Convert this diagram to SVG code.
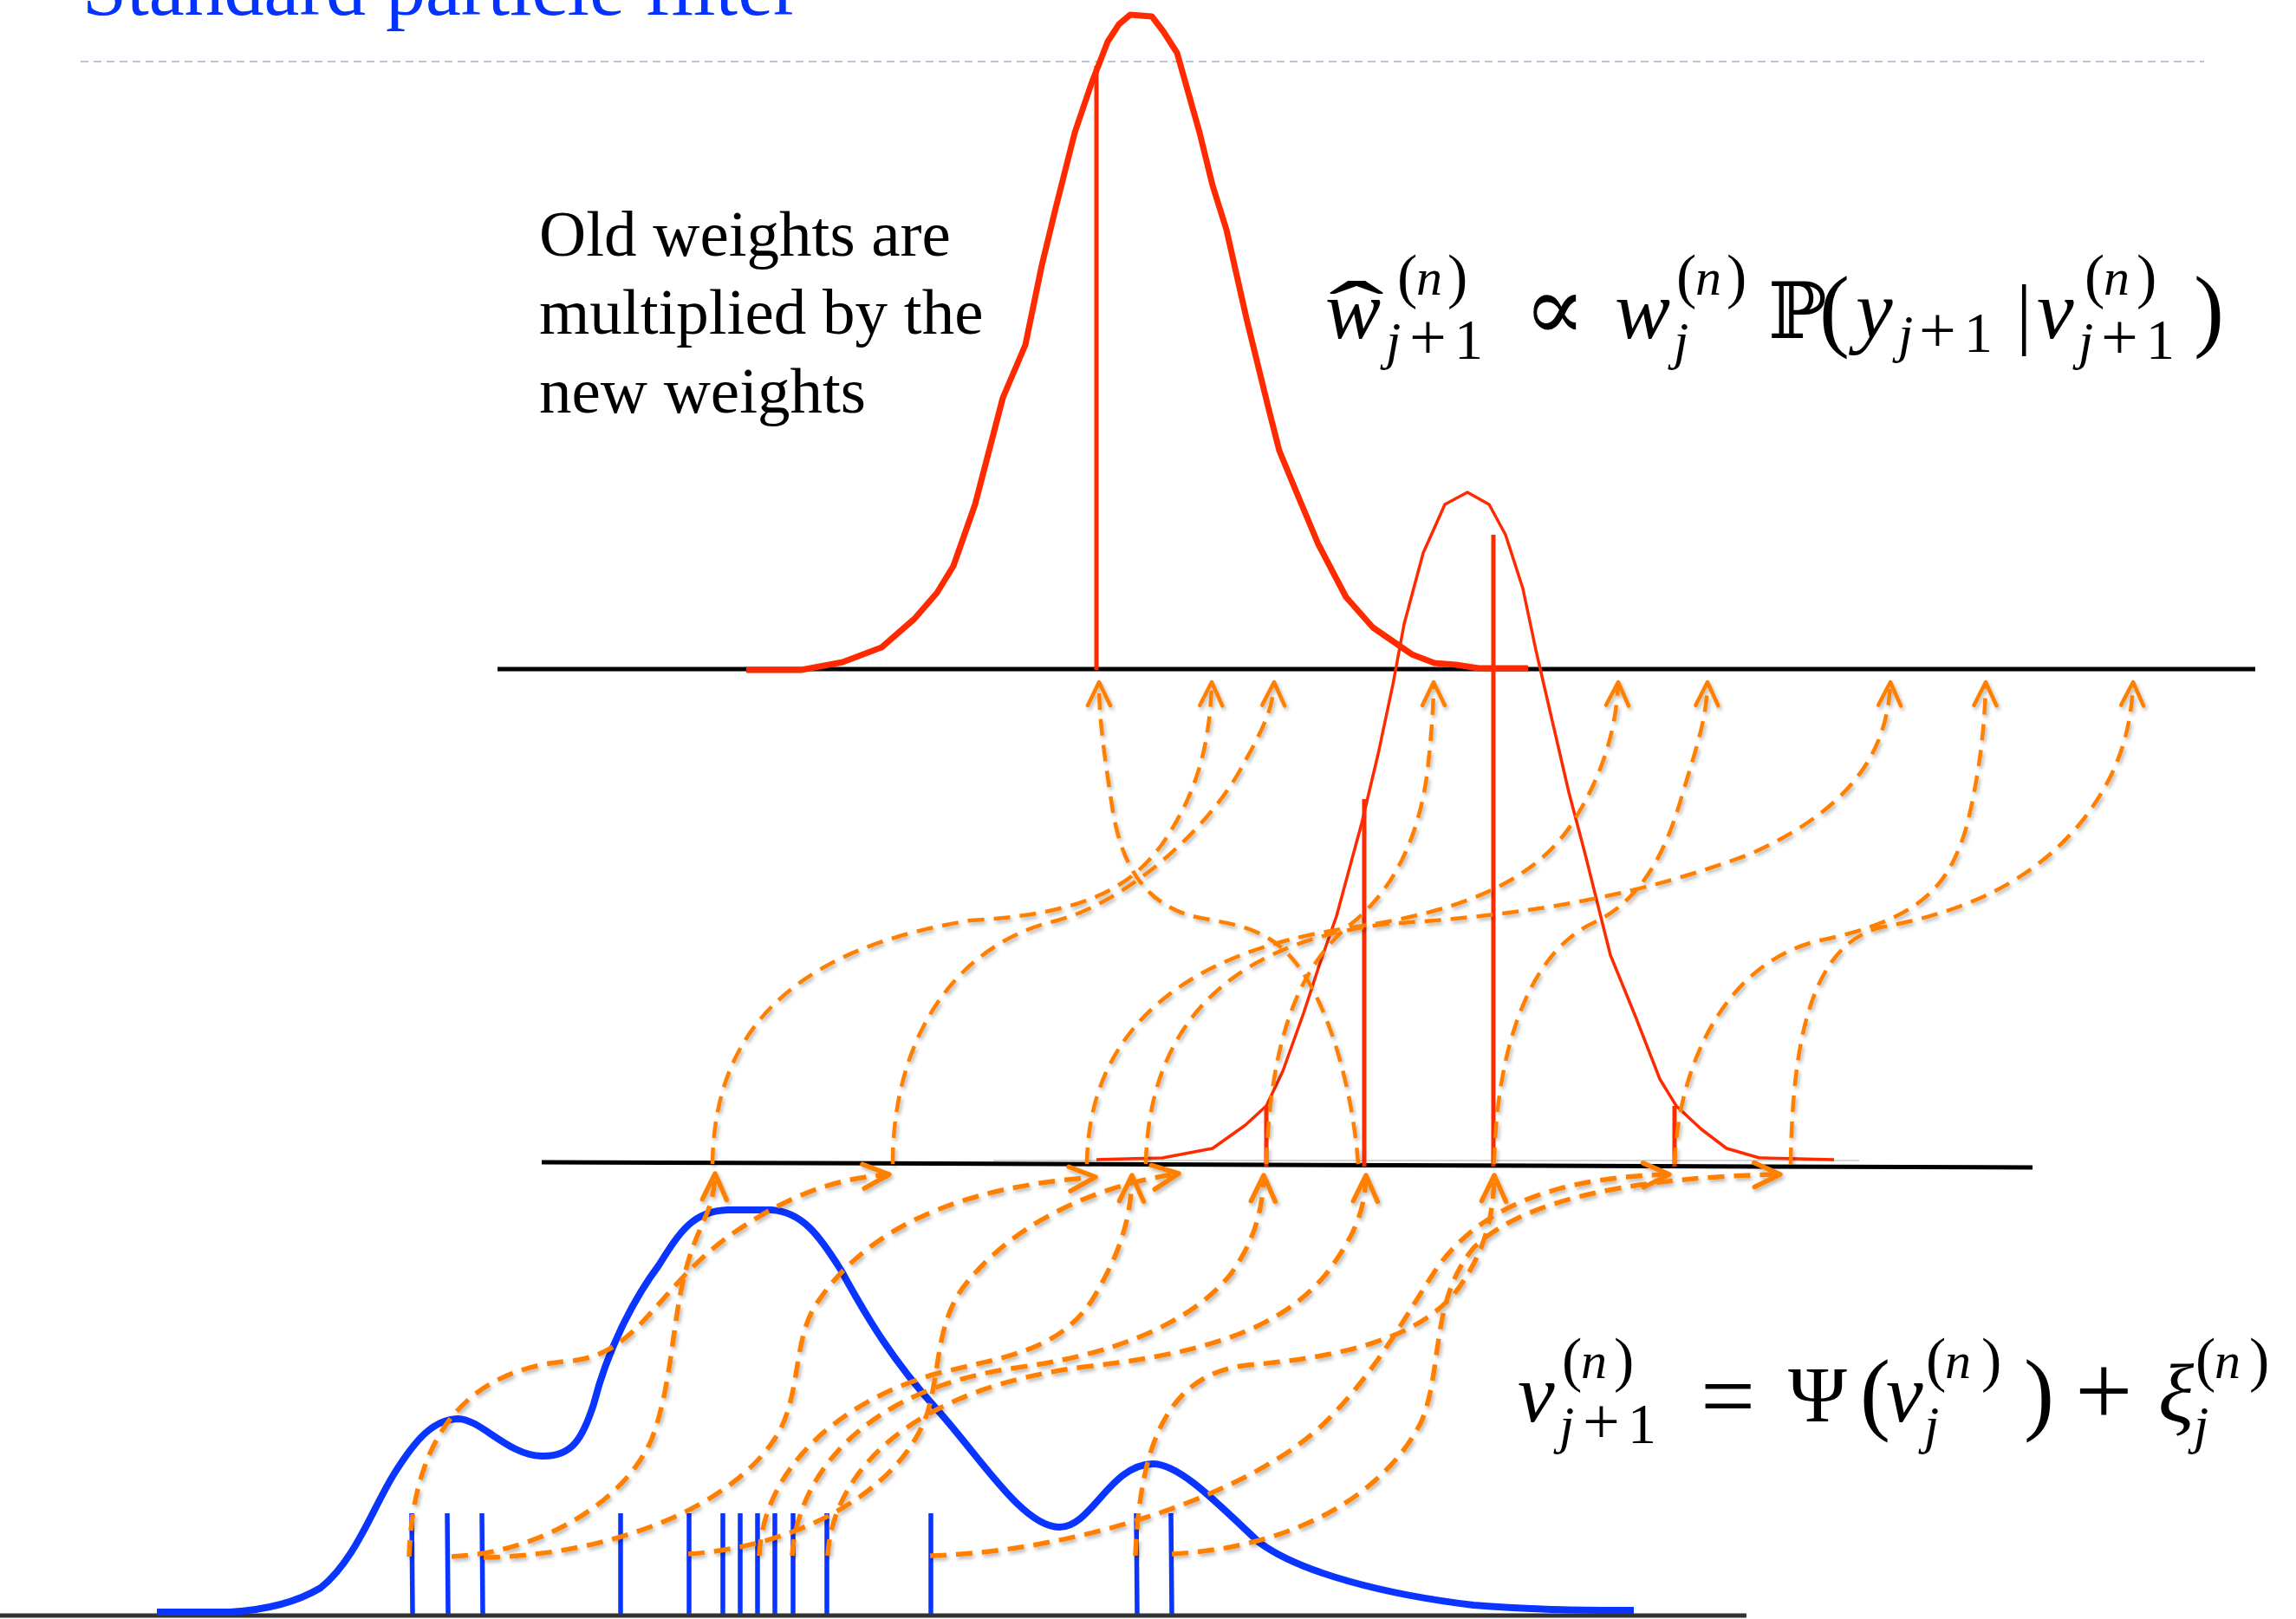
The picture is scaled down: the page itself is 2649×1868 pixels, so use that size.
<svg xmlns="http://www.w3.org/2000/svg" width="2649" height="1868" viewBox="0 0 2649 1868">
<style>
.axis{stroke:#000;stroke-width:5;fill:none}
.redc{fill:none;stroke:#ff2a00;stroke-linejoin:round;stroke-linecap:butt}
.stick{stroke:#ff2a00;stroke-width:5}
.tick{stroke:#0a34ff;stroke-width:5.5}
.con path{fill:none;stroke:#ff8000;stroke-dasharray:19 11}
.con .lo{stroke-width:5.5;marker-end:url(#ahLo)}
.con .up{stroke-width:4.5;marker-end:url(#ahUp)}
.math{font-family:'Liberation Serif','Times New Roman',serif;fill:#000}
.it{font-style:italic}
.sym{font-family:'DejaVu Serif','DejaVu Sans',serif;font-style:normal}
</style>
<defs>
<marker id="ahLo" markerUnits="userSpaceOnUse" viewBox="-36 -20 42 40" markerWidth="42" markerHeight="40" refX="0" refY="0" orient="auto">
<path d="M-30,-14 L0,0 L-30,14" fill="none" stroke="#ff8000" stroke-width="5.5" stroke-linecap="round" stroke-linejoin="round"/>
</marker>
<marker id="ahUp" markerUnits="userSpaceOnUse" viewBox="-32 -18 38 36" markerWidth="38" markerHeight="36" refX="0" refY="0" orient="auto">
<path d="M-27,-13 L0,0 L-27,13" fill="none" stroke="#ff8000" stroke-width="4.5" stroke-linecap="round" stroke-linejoin="round"/>
</marker>
<filter id="sh" x="-5%" y="-5%" width="110%" height="110%">
<feDropShadow dx="2" dy="3" stdDeviation="2" flood-color="#000" flood-opacity="0.28"/>
</filter>
</defs>
<rect width="2649" height="1868" fill="#fff"/>

<g id="title">
<text x="95" y="17" font-family="'Liberation Serif','Times New Roman',serif" font-size="92" fill="#0433ff">Standard particle filter</text>
<line x1="93" y1="71" x2="2543" y2="71" stroke="#b4c6da" stroke-width="2" stroke-dasharray="9 6"/>
</g>

<g id="label-old-weights" font-family="'Liberation Serif','Times New Roman',serif" font-size="75" fill="#000">
<text x="622" y="295">Old weights are</text>
<text x="622" y="385">multiplied by the</text>
<text x="622" y="476">new weights</text>
</g>

<g id="axes">
<line class="axis" x1="574" y1="772" x2="2602" y2="772"/>
<line x1="1146" y1="1339" x2="2145" y2="1339" stroke="#c8c8c8" stroke-width="1.5"/>
<line class="axis" x1="625" y1="1341" x2="2345" y2="1347"/>
<line x1="0" y1="1864" x2="2015" y2="1864" stroke="#333" stroke-width="5"/>
</g>

<g id="prior-density">
<path d="M181,1860 L265,1860 C300,1858 340,1850 370,1832 C410,1800 430,1740 455,1700 C480,1660 500,1638 528,1637 C555,1637 585,1679 625,1680 C660,1681 672,1660 685,1620 C700,1560 730,1500 760,1460 C785,1420 800,1397 840,1396 L890,1396 C925,1398 945,1425 970,1465 C1000,1520 1030,1570 1080,1625 C1130,1680 1180,1762 1222,1762 C1260,1762 1280,1690 1330,1689 C1360,1689 1400,1730 1452,1779 C1500,1815 1600,1840 1700,1852 C1780,1858 1830,1858 1885,1858" fill="none" stroke="#0a34ff" stroke-width="8" stroke-linejoin="round"/>
</g>

<g id="prior-particles">
<line class="tick" x1="475" y1="1746" x2="476" y2="1862"/>
<line class="tick" x1="516" y1="1746" x2="517" y2="1862"/>
<line class="tick" x1="556" y1="1746" x2="557" y2="1862"/>
<line class="tick" x1="716" y1="1746" x2="716" y2="1862"/>
<line class="tick" x1="795" y1="1746" x2="795" y2="1862"/>
<line class="tick" x1="834" y1="1746" x2="834" y2="1862"/>
<line class="tick" x1="854" y1="1746" x2="854" y2="1862"/>
<line class="tick" x1="874" y1="1746" x2="874" y2="1862"/>
<line class="tick" x1="894" y1="1746" x2="894" y2="1862"/>
<line class="tick" x1="915" y1="1746" x2="915" y2="1862"/>
<line class="tick" x1="954" y1="1746" x2="954" y2="1862"/>
<line class="tick" x1="1074" y1="1746" x2="1074" y2="1862"/>
<line class="tick" x1="1311" y1="1746" x2="1312" y2="1862"/>
<line class="tick" x1="1351" y1="1746" x2="1352" y2="1862"/>
</g>

<g id="likelihood">
<path class="redc" stroke-width="3.5" d="M1265,1338 L1341,1336 L1399,1325 L1437,1298 L1461,1276 L1480,1236 L1504,1169 L1523,1111 L1542,1057 L1571,950 L1590,870 L1607,790 L1620,720 L1642,638 L1667,582 L1693,568 L1718,582 L1737,617 L1757,679 L1772,750 L1781,789 L1810,914 L1829,986 L1858,1102 L1887,1173 L1915,1245 L1934,1276 L1963,1303 L1992,1325 L2030,1336 L2116,1338"/>
</g>

<g id="middle-weights">
<line class="stick" x1="1461" y1="1276" x2="1461" y2="1346"/>
<line class="stick" x1="1574" y1="922" x2="1574" y2="1346"/>
<line class="stick" x1="1723" y1="617" x2="1723" y2="1346"/>
<line class="stick" x1="1932" y1="1276" x2="1932" y2="1346"/>
</g>

<g id="posterior-density">
<path class="redc" stroke-width="7" d="M861,773 L924,773 L972,764 L1017,747 L1055,714 L1081,684 L1100,653 L1125,582 L1157,459 L1183,398 L1202,306 L1218,240 L1240,153 L1259,97 L1278,48 L1291,28 L1304,17 L1329,19 L1342,36 L1358,61 L1384,153 L1399,214 L1415,265 L1438,367 L1463,469 L1476,520 L1495,566 L1521,628 L1553,689 L1584,724 L1629,755 L1655,765 L1680,767 L1706,771 L1763,771"/>
<line class="stick" x1="1265" y1="76" x2="1265" y2="773"/>
</g>

<g id="connectors" class="con" filter="url(#sh)">
<path class="lo" d="M472,1796 C476,1680 520,1580 660,1570 C740,1562 760,1480 850,1420 C910,1380 960,1360 1026,1355"/>
<path class="lo" d="M521,1796 C620,1792 720,1735 752,1660 C775,1600 775,1530 790,1470 C805,1410 824,1400 825,1354"/>
<path class="lo" d="M558,1797 C700,1795 850,1740 900,1650 C925,1600 915,1540 945,1500 C1000,1420 1100,1370 1264,1358"/>
<path class="lo" d="M794,1793 C920,1785 1040,1720 1070,1630 C1085,1580 1080,1530 1110,1487 C1160,1420 1250,1370 1360,1354"/>
<path class="lo" d="M876,1795 C880,1700 960,1620 1080,1585 C1160,1565 1220,1560 1260,1500 C1290,1450 1305,1410 1306,1356"/>
<path class="lo" d="M914,1795 C920,1700 1000,1600 1180,1577 C1300,1560 1380,1520 1420,1470 C1445,1435 1457,1400 1458,1356"/>
<path class="lo" d="M955,1795 C960,1700 1050,1600 1260,1576 C1400,1560 1480,1530 1530,1470 C1560,1430 1575,1400 1576,1356"/>
<path class="lo" d="M1073,1795 C1250,1790 1450,1720 1530,1640 C1590,1580 1620,1520 1660,1460 C1720,1380 1820,1358 1926,1355"/>
<path class="lo" d="M1310,1795 C1315,1680 1340,1585 1440,1575 C1560,1565 1640,1540 1680,1490 C1710,1450 1723,1410 1724,1356"/>
<path class="lo" d="M1352,1793 C1500,1785 1600,1720 1640,1640 C1665,1580 1650,1500 1700,1440 C1760,1380 1900,1358 2054,1355"/>

<path class="up" d="M822,1343 C824,1220 880,1100 1120,1062 C1240,1055 1300,1030 1340,975 C1375,925 1396,870 1398,787"/>
<path class="up" d="M1030,1343 C1030,1200 1100,1090 1220,1062 C1300,1040 1390,960 1430,890 C1455,845 1469,820 1470,787"/>
<path class="up" d="M1567,1343 C1560,1250 1530,1150 1490,1105 C1460,1070 1420,1066 1390,1060 C1330,1050 1295,1010 1283,930 C1274,870 1268,830 1268,787"/>
<path class="up" d="M1461,1343 C1465,1220 1490,1120 1560,1065 C1610,1025 1640,960 1648,880 C1652,840 1654,815 1654,787"/>
<path class="up" d="M1254,1343 C1256,1200 1350,1100 1560,1070 C1700,1050 1780,1010 1820,940 C1850,890 1865,840 1867,787"/>
<path class="up" d="M1322,1343 C1325,1200 1400,1090 1600,1066 C1780,1055 1900,1030 2020,985 C2120,940 2178,880 2181,787"/>
<path class="up" d="M1724,1343 C1726,1220 1760,1100 1840,1064 C1890,1040 1920,990 1940,920 C1958,860 1969,830 1970,787"/>
<path class="up" d="M1932,1343 C1936,1230 1990,1110 2100,1085 C2220,1060 2250,1020 2270,950 C2284,890 2290,840 2291,787"/>
<path class="up" d="M2066,1343 C2068,1200 2090,1090 2170,1070 C2280,1050 2350,1010 2400,950 C2440,900 2459,850 2461,787"/>
</g>

<g id="formula-weight-update">
<text class="math" font-size="96"><tspan class="it" x="1529" y="390">w</tspan><tspan x="1533" y="394" font-size="100" textLength="64" lengthAdjust="spacingAndGlyphs">ˆ</tspan><tspan x="1612" y="342" font-size="70">(</tspan><tspan class="it" x="1634" y="340" font-size="60">n</tspan><tspan x="1670" y="342" font-size="70">)</tspan><tspan class="it" x="1599" y="414" font-size="62">j</tspan><tspan x="1626" y="414" font-size="76">+</tspan><tspan x="1678" y="414" font-size="66">1</tspan><tspan class="sym" x="1758" y="392" font-size="106">∝</tspan><tspan class="it" x="1863" y="390">w</tspan><tspan x="1934" y="342" font-size="70">(</tspan><tspan class="it" x="1956" y="340" font-size="60">n</tspan><tspan x="1992" y="342" font-size="70">)</tspan><tspan class="it" x="1931" y="414" font-size="62">j</tspan><tspan class="sym" x="2040" y="390" font-size="90">ℙ</tspan><tspan x="2099" y="392" font-size="105">(</tspan><tspan class="it" x="2141" y="390">y</tspan><tspan class="it" x="2190" y="406" font-size="62">j</tspan><tspan x="2214" y="406" font-size="76">+</tspan><tspan x="2266" y="406" font-size="66">1</tspan><tspan x="2326" y="392" font-size="92">|</tspan><tspan class="it" x="2350" y="390">v</tspan><tspan x="2405" y="342" font-size="70">(</tspan><tspan class="it" x="2427" y="340" font-size="60">n</tspan><tspan x="2465" y="342" font-size="70">)</tspan><tspan class="it" x="2398" y="414" font-size="62">j</tspan><tspan x="2424" y="414" font-size="76">+</tspan><tspan x="2476" y="414" font-size="66">1</tspan><tspan x="2531" y="392" font-size="105">)</tspan></text>
</g>

<g id="formula-propagation">
<text class="math" font-size="96"><tspan class="it" x="1751" y="1640">v</tspan><tspan x="1802" y="1592" font-size="70">(</tspan><tspan class="it" x="1824" y="1590" font-size="60">n</tspan><tspan x="1862" y="1592" font-size="70">)</tspan><tspan class="it" x="1799" y="1665" font-size="62">j</tspan><tspan x="1826" y="1665" font-size="76">+</tspan><tspan x="1878" y="1665" font-size="66">1</tspan><tspan x="1962" y="1648" font-size="112">=</tspan><tspan x="2063" y="1640" font-size="92">Ψ</tspan><tspan x="2146" y="1642" font-size="105">(</tspan><tspan class="it" x="2176" y="1640">v</tspan><tspan x="2222" y="1592" font-size="70">(</tspan><tspan class="it" x="2244" y="1590" font-size="60">n</tspan><tspan x="2286" y="1592" font-size="70">)</tspan><tspan class="it" x="2220" y="1665" font-size="62">j</tspan><tspan x="2335" y="1642" font-size="105">)</tspan><tspan x="2394" y="1645" font-size="118">+</tspan><tspan class="it" x="2490" y="1640">ξ</tspan><tspan x="2533" y="1592" font-size="70">(</tspan><tspan class="it" x="2555" y="1590" font-size="60">n</tspan><tspan x="2595" y="1592" font-size="70">)</tspan><tspan class="it" x="2531" y="1665" font-size="62">j</tspan></text>
</g>
</svg>
